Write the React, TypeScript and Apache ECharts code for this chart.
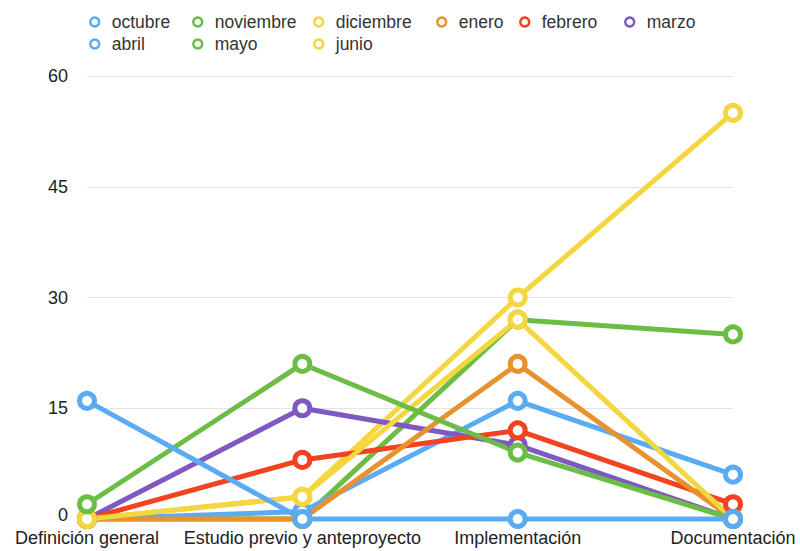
import React, { useEffect, useRef } from "react";
import * as echarts from "echarts";

const categories = ["Definición general", "Estudio previo y anteproyecto", "Implementación", "Documentación"];
const yTicks = [0, 15, 30, 45, 60];

const octubre = [16, 0, 0, 0];
const noviembre = [2, 21, 9, 0];
const diciembre = [0, 3, 27, 0];
const enero = [0, 0, 21, 0];
const febrero = [0, 8, 12, 2];
const marzo = [0, 15, 10, 0];
const abril = [0, 1, 16, 6];
const mayo = [0, 0, 27, 25];
const junio = [0, 3, 30, 55];

const seriesNames = ["octubre", "noviembre", "diciembre", "enero", "febrero", "marzo", "abril", "mayo", "junio"];
const seriesValues = [octubre, noviembre, diciembre, enero, febrero, marzo, abril, mayo, junio];
const seriesColors = ["#5aabf2", "#6cbd45", "#f4d63e", "#e8922f", "#f2421f", "#8058c2", "#5aabf2", "#6cbd45", "#f4d63e"];

const legendColumns = [
  ["octubre", "abril"],
  ["noviembre", "mayo"],
  ["diciembre", "junio"],
  ["enero"],
  ["febrero"],
  ["marzo"],
];
const legendLefts = [84, 187, 308, 431, 514, 619];

const FONT = "Liberation Sans, Helvetica, Arial, sans-serif";

export default function App() {
  const ref = useRef<HTMLDivElement>(null);
  useEffect(() => {
    if (!ref.current) return;
    const chart = echarts.init(ref.current, null, { renderer: "svg" });
    const colorOf = (name: string) => seriesColors[seriesNames.indexOf(name)];
    const series = seriesNames
      .map((name, i) => ({
        name,
        type: "line",
        data: seriesValues[i],
        color: seriesColors[i],
        symbol: "circle",
        symbolSize: 15,
        clip: false,
        lineStyle: { width: 5, color: seriesColors[i] },
        itemStyle: { color: "#ffffff", borderColor: seriesColors[i], borderWidth: 5 },
        emphasis: { disabled: true },
      }))
      .reverse();
    chart.setOption({
      animation: false,
      backgroundColor: "#ffffff",
      legend: legendColumns.map((col, i) => ({
        data: col.map((name) => ({
          name,
          icon: "circle",
          itemStyle: { color: "#ffffff", borderColor: colorOf(name), borderWidth: 2.5 },
        })),
        orient: "vertical",
        left: legendLefts[i],
        top: 8,
        itemGap: 4,
        itemWidth: 24,
        itemHeight: 9,
        selectedMode: false,
        textStyle: { fontSize: 17.5, color: "#333", fontFamily: FONT, lineHeight: 18 },
      })),
      grid: { left: 87, right: 67, top: 76, bottom: 32, containLabel: false },
      xAxis: {
        type: "category",
        data: categories,
        boundaryGap: false,
        axisLine: { show: false },
        axisTick: { show: false },
        axisLabel: { fontSize: 18, lineHeight: 16, color: "#222", fontFamily: FONT, margin: 11, interval: 0 },
        splitLine: { show: false },
      },
      yAxis: {
        type: "value",
        min: yTicks[0],
        max: yTicks[yTicks.length - 1],
        interval: 15,
        axisLine: { show: false },
        axisTick: { show: false },
        axisLabel: {
          fontSize: 18,
          lineHeight: 14,
          color: "#222",
          fontFamily: FONT,
          margin: 19,
          formatter: (v: number) => (v === 0 ? "{z|0}" : String(v)),
          rich: {
            z: { fontSize: 18, lineHeight: 14, color: "#222", fontFamily: FONT, padding: [0, 0, 8, 0] },
          },
        },
        splitLine: { lineStyle: { color: "#e4e4e4", width: 1 } },
      },
      series,
    });
    return () => chart.dispose();
  }, []);
  return <div ref={ref} style={{ width: 800, height: 551, position: "absolute", left: 0, top: 0 }} />;
}
